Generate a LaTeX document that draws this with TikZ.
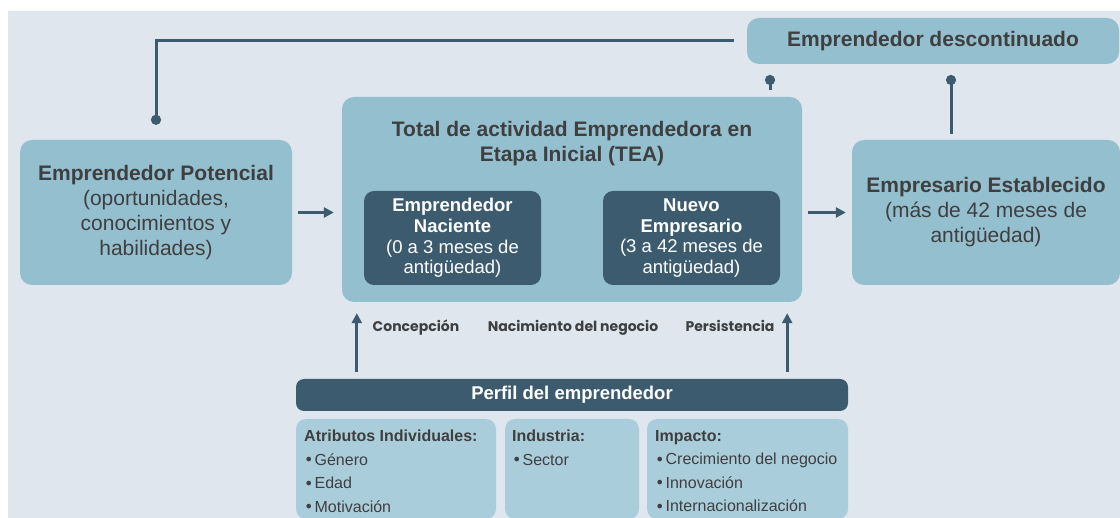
\documentclass[tikz,border=0pt]{standalone}
\usepackage{fontspec}
\setmainfont{Liberation Sans}
\newfontfamily\stagefont{Poppins}
\newfontfamily\bulfont{DejaVu Sans}
\usetikzlibrary{arrows.meta,calc}

\definecolor{bgblue}{HTML}{DFE6EE}
\definecolor{boxblue}{HTML}{94BFCF}
\definecolor{paleblue}{HTML}{AACDDB}
\definecolor{darkblue}{HTML}{3D5B6E}
\definecolor{textgrey}{HTML}{3F3F3F}

\newcommand\bigtxt{\fontsize{21}{25}\selectfont}
\newcommand\midtxt{\fontsize{18.5}{20.7}\selectfont}
\newcommand\smalltxt{\fontsize{16}{23.5}\selectfont}
\newcommand\bul{{\bulfont\fontsize{16}{16}\selectfont\raisebox{-0.5pt}{•}}\hspace{1pt}}

\tikzset{
  box/.style={fill=boxblue, rounded corners=12pt, text=textgrey, align=center, inner sep=0pt},
  darkbox/.style={fill=darkblue, rounded corners=10pt, text=white, align=center, inner sep=0pt},
  palebox/.style={fill=paleblue, rounded corners=10pt, inner sep=0pt},
  listtext/.style={text=textgrey, align=left, anchor=north west, inner sep=0pt, font=\smalltxt},
  link/.style={darkblue, line width=3pt},
  dotlink/.style={link, {Circle[length=10pt]}-},
  arr/.style={link, -{Triangle[length=10pt,width=10pt]}},
  stage/.style={text=textgrey, anchor=base, font=\stagefont\bfseries\fontsize{14}{16}\selectfont},
}

\begin{document}
\begin{tikzpicture}[x=1pt,y=-1pt]
  \useasboundingbox (0,0) rectangle (1120,518);
  \fill[bgblue] (8,11) rectangle (1120,518);

  % upper row
  \node[box, minimum width=272pt, minimum height=145pt, font=\bigtxt] (pot) at (156,212.5)
    {\textbf{Emprendedor Potencial}\\(oportunidades,\\conocimientos y\\habilidades)};
  \node[box, minimum width=460pt, minimum height=205pt] (tea) at (572,199.5) {};
  \node[text=textgrey, align=center, font=\bigtxt\bfseries, inner sep=0pt] (teatitle) at (572,143.5)
    {Total de actividad Emprendedora en\\Etapa Inicial (TEA)};
  \node[darkbox, minimum width=177pt, minimum height=94pt, font=\midtxt] (nac) at (452.5,238)
    {\textbf{Emprendedor}\\\textbf{Naciente}\\(0 a 3 meses de\\antigüedad)};
  \node[darkbox, minimum width=177pt, minimum height=94pt, font=\midtxt] (nuevo) at (691.5,238)
    {\textbf{Nuevo}\\\textbf{Empresario}\\(3 a 42 meses de\\antigüedad)};
  \node[box, minimum width=268pt, minimum height=145pt, font=\bigtxt] (est) at (986,212.5)
    {\textbf{Empresario Establecido}\\(más de 42 meses de\\antigüedad)};
  \node[box, minimum width=372pt, minimum height=46pt, font=\bigtxt\bfseries] (desc) at (933,41)
    {Emprendedor descontinuado};

  % stages
  \node[stage] (concepcion) at (416,332) {Concepción};
  \node[stage] (nacimiento) at (573,332) {Nacimiento del negocio};
  \node[stage] (persistencia) at (730,332) {Persistencia};

  % profile
  \node[darkbox, rounded corners=8pt, minimum width=552pt, minimum height=32pt,
    font=\midtxt\bfseries] (perfil) at (572,395) {Perfil del emprendedor};
  \node[palebox, minimum width=200pt, minimum height=100pt] (attr) at (396,469) {};
  \node[palebox, minimum width=134pt, minimum height=100pt] (ind) at (572,469) {};
  \node[palebox, minimum width=201pt, minimum height=100pt] (imp) at (747.5,469) {};
  \node[listtext] (attrtext) at (304,430)
    {\textbf{Atributos Individuales:}\\\bul Género\\\bul Edad\\\bul Motivación};
  \node[listtext] (indtext) at (512,430)
    {\textbf{Industria:}\\\bul Sector};
  \node[listtext] (imptext) at (655,430)
    {\textbf{Impacto:}\\\bul Crecimiento del negocio\\\bul Innovación\\\bul Internacionalización};

  % connectors
  \draw[dotlink] ([yshift=15pt]pot.north) |- ([xshift=-13pt]desc.west);
  \coordinate (teadot) at (770,75);
  \draw[dotlink, shorten >=7pt] (teadot) -- (teadot |- tea.north);
  \coordinate (estdot) at (951,75);
  \draw[dotlink, shorten >=6pt] (estdot) -- (estdot |- est.north);
  \draw[arr, shorten <=6pt, shorten >=8pt] (pot.east) -- (pot.east -| tea.west);
  \draw[arr, shorten <=6pt, shorten >=6pt] (tea.east |- est.west) -- (est.west);
  \coordinate (leftup) at ([xshift=61pt]perfil.north west);
  \coordinate (rightup) at ([xshift=-61pt]perfil.north east);
  \draw[arr, shorten <=7pt, shorten >=11pt] (leftup) -- (leftup |- tea.south);
  \draw[arr, shorten <=7pt, shorten >=11pt] (rightup) -- (rightup |- tea.south);
\end{tikzpicture}
\end{document}
